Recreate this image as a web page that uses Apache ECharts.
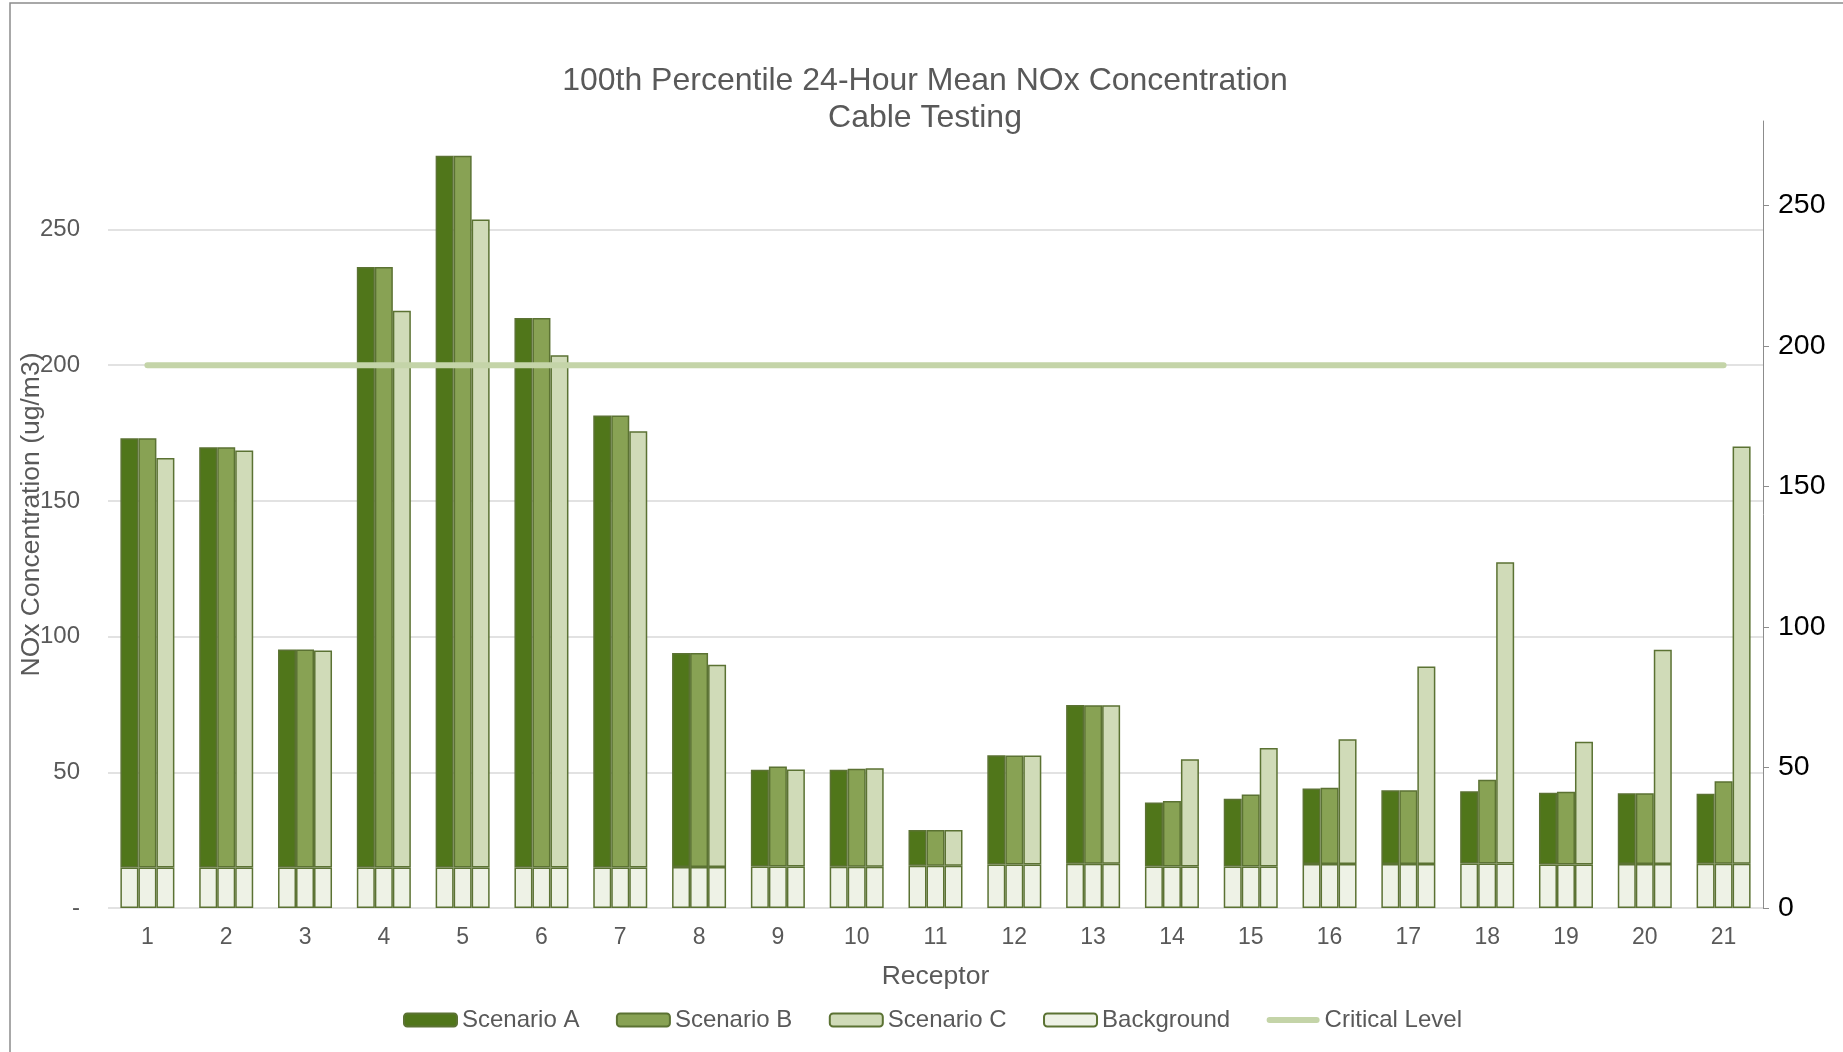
<!DOCTYPE html>
<html>
<head>
<meta charset="utf-8">
<title>100th Percentile 24-Hour Mean NOx Concentration - Cable Testing</title>
<script src="https://cdn.jsdelivr.net/npm/echarts@6/dist/echarts.min.js"></script>
<style>
  html, body { margin: 0; padding: 0; background: #ffffff; }
  #chart { width: 1843px; height: 1052px; }
</style>
</head>
<body>
<div id="chart"></div>
<script>
// Receptor locations along the x axis
const receptors = ['1','2','3','4','5','6','7','8','9','10','11','12','13','14','15','16','17','18','19','20','21'];

// Total NOx concentration (ug/m3) at each receptor, per scenario
const scenarioA = [173.1,169.8,95.3,236.2,277.2,217.4,181.5,94.0,50.9,50.9,28.7,56.3,74.8,38.9,40.3,44.0,43.4,43.0,42.5,42.3,42.1];
const scenarioB = [173.1,169.8,95.3,236.2,277.2,217.4,181.5,94.0,52.1,51.3,28.7,56.2,74.7,39.4,41.8,44.3,43.4,47.3,42.8,42.3,46.7];
const scenarioC = [165.8,168.6,94.9,220.1,253.7,203.7,175.7,89.6,51.0,51.5,28.7,56.2,74.7,54.8,59.0,62.2,89.0,127.4,61.3,95.2,170.1];

// Background NOx contribution at each receptor
const background = [14.9,14.9,14.9,14.9,14.9,14.9,14.9,15.1,15.3,15.2,15.6,16.0,16.3,15.3,15.3,16.2,16.2,16.4,16.0,16.2,16.3];

// Critical level for NOx (ug/m3)
const criticalLevel = [200,200,200,200,200,200,200,200,200,200,200,200,200,200,200,200,200,200,200,200,200];

// Axis tick labels
const leftTicks = [0, 50, 100, 150, 200, 250];
const rightTicks = [0, 50, 100, 150, 200, 250];

const FONT = "'Liberation Sans', Arial, sans-serif";
const GREY_TEXT = '#595959';
const EDGE = '#5b7233';

const colors = {
  a: '#50761a',
  b: '#88a254',
  c: '#d0dbb8',
  bg: '#eef2e6',
  crit: '#c4d4a8'
};

// Process contribution sits on top of the background in each bar
function increment(total) {
  return total.map((v, i) => +(v - background[i]).toFixed(2));
}

function bgSeries(stack) {
  return {
    name: 'Background', type: 'bar', stack: stack,
    barWidth: 18, barGap: '0%',
    itemStyle: { color: colors.bg, borderColor: EDGE, borderWidth: 1.5 },
    emphasis: { disabled: true },
    data: background
  };
}
function scenSeries(name, stack, color, total) {
  return {
    name: name, type: 'bar', stack: stack,
    barWidth: 18, barGap: '0%',
    itemStyle: { color: color, borderColor: EDGE, borderWidth: 1.5 },
    emphasis: { disabled: true },
    data: increment(total)
  };
}

const chart = echarts.init(document.getElementById('chart'), null, { renderer: 'canvas' });

chart.setOption({
  animation: false,
  backgroundColor: '#ffffff',
  textStyle: { fontFamily: FONT },
  graphic: [{
    type: 'rect',
    shape: { x: 10, y: 3, width: 1900, height: 1100 },
    style: { fill: 'none', stroke: '#8c8c8c', lineWidth: 1.5 },
    silent: true, z: -10
  }],
  title: {
    text: '100th Percentile 24-Hour Mean NOx Concentration\nCable Testing',
    left: 925,
    textAlign: 'center',
    top: 63,
    padding: 0,
    textStyle: { fontFamily: FONT, fontSize: 32, fontWeight: 'normal', color: GREY_TEXT, lineHeight: 37 }
  },
  grid: { left: 108, right: 80, top: 121, bottom: 144, containLabel: false, outerBoundsMode: 'none' },
  legend: {
    left: 398,
    top: 1003,
    itemWidth: 53,
    itemHeight: 13,
    itemGap: 36.5,
    textStyle: { fontFamily: FONT, fontSize: 24, color: GREY_TEXT },
    data: [
      'Scenario A', 'Scenario B', 'Scenario C', 'Background',
      {
        name: 'Critical Level',
        icon: 'path://M3,0 L50,0 A3,3 0 0 1 50,6 L3,6 A3,3 0 0 1 3,0 Z',
        itemStyle: { color: colors.crit, borderWidth: 0 }
      }
    ]
  },
  xAxis: {
    type: 'category',
    data: receptors,
    name: 'Receptor',
    nameLocation: 'middle',
    nameGap: 55,
    nameMoveOverlap: false,
    nameTextStyle: { fontFamily: FONT, fontSize: 26.5, color: GREY_TEXT },
    axisLine: { show: false },
    axisTick: { show: false },
    axisLabel: { fontFamily: FONT, fontSize: 23, color: GREY_TEXT, margin: 18 }
  },
  yAxis: [{
    type: 'value',
    min: 0, max: 290, interval: 50,
    name: 'NOx Concentration (ug/m3)',
    nameLocation: 'middle',
    nameGap: 63,
    nameMoveOverlap: false,
    nameTextStyle: { fontFamily: FONT, fontSize: 26.5, color: GREY_TEXT },
    axisLine: { show: false },
    axisTick: { show: false },
    axisLabel: {
      fontFamily: FONT, fontSize: 24, color: GREY_TEXT, margin: 28,
      customValues: leftTicks,
      formatter: v => (v === 0 ? '-' : String(v))
    },
    splitLine: { show: true, showMaxLine: false, lineStyle: { color: '#d9d9d9', width: 1.5 } }
  }, {
    type: 'value',
    position: 'right',
    min: 0, max: 280, interval: 50,
    axisLine: { show: true, lineStyle: { color: '#8c8c8c', width: 1 } },
    axisTick: { show: true, length: 6, lineStyle: { color: '#8c8c8c' }, customValues: rightTicks },
    axisLabel: { fontFamily: FONT, fontSize: 28.5, color: '#000000', margin: 15, customValues: rightTicks },
    splitLine: { show: false }
  }],
  series: [
    bgSeries('a'), scenSeries('Scenario A', 'a', colors.a, scenarioA),
    bgSeries('b'), scenSeries('Scenario B', 'b', colors.b, scenarioB),
    bgSeries('c'), scenSeries('Scenario C', 'c', colors.c, scenarioC),
    {
      name: 'Critical Level', type: 'line',
      data: criticalLevel,
      symbol: 'none',
      lineStyle: { color: colors.crit, width: 6, cap: 'round' },
      itemStyle: { color: colors.crit },
      emphasis: { disabled: true },
      z: 5
    }
  ]
});
</script>
</body>
</html>
